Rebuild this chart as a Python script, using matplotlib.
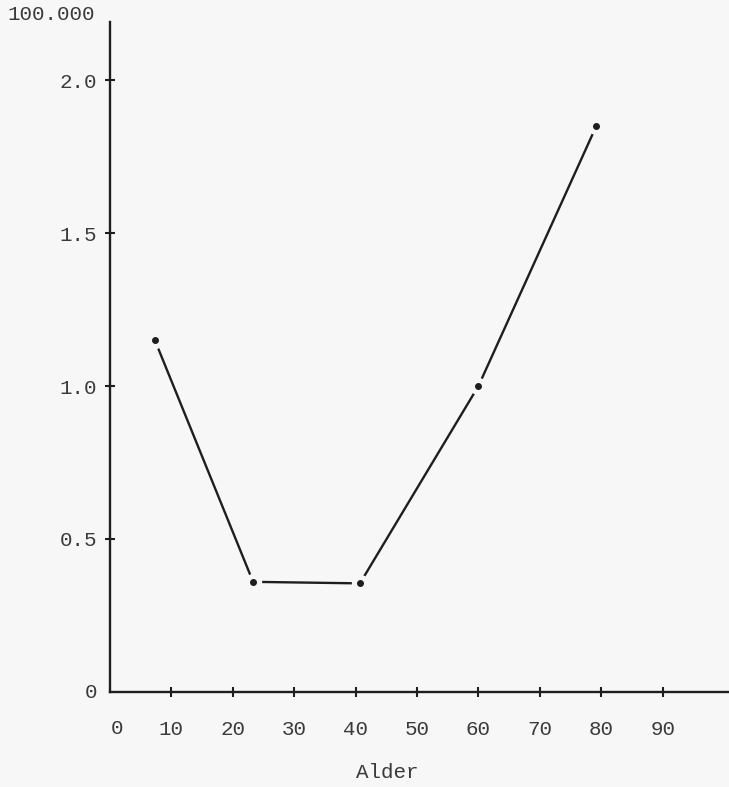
import matplotlib
matplotlib.use("Agg")
import matplotlib.pyplot as plt

# Data
age = [7.3, 23.3, 40.7, 60.0, 79.2]
rate = [1.15, 0.36, 0.355, 1.0, 1.85]
x_ticks = [0, 10, 20, 30, 40, 50, 60, 70, 80, 90]
y_ticks = [0.5, 1.0, 1.5, 2.0]
y_ticklabels = ["0.5", "1.0", "1.5", "2.0"]
x_label = "Alder"
unit_label = "100.000"

BG = "#f7f7f7"
INK = "#1e1e1e"
TXT = "#3a3a3a"
FONT = ["Liberation Mono", "DejaVu Sans Mono"]
FS = 15

plt.rcParams["font.family"] = FONT

fig = plt.figure(figsize=(7.29, 7.87), dpi=100, facecolor=BG)
W, H = 729, 787
ax = fig.add_axes([110 / W, 1 - 692 / H, 1 - 110 / W, (692 - 22) / H])
ax.set_facecolor(BG)

ax.set_xlim(0, 100.8)
ax.set_ylim(0, (692 - 22) / 306.0)

for s in ["top", "right"]:
    ax.spines[s].set_visible(False)
for s in ["left", "bottom"]:
    ax.spines[s].set_color(INK)
    ax.spines[s].set_linewidth(1.7)

ax.plot(age, rate, color=INK, lw=1.7, zorder=2, solid_capstyle="round")
ax.plot(age, rate, ls="none", marker="o", ms=11.5, mfc=BG, mec=BG, zorder=3)
ax.plot(age, rate, ls="none", marker="o", ms=4.0, mfc=INK, mec=INK, zorder=4)

ax.set_xticks(x_ticks[1:])
ax.set_xticklabels([str(v) for v in x_ticks[1:]])
ax.set_yticks(y_ticks)
ax.set_yticklabels(y_ticklabels)
ax.tick_params(axis="both", direction="inout", length=7, width=1.5, color=INK,
               labelsize=FS, labelcolor=TXT)
ax.tick_params(axis="x", pad=17)
ax.tick_params(axis="y", pad=6)

# zero labels at the origin
ax.text(1.2, -0.118, str(x_ticks[0]), ha="center", va="center",
        fontsize=FS, color=TXT, clip_on=False)
ax.text(-2.0, 0.0, "0", ha="right", va="center", fontsize=FS, color=TXT, clip_on=False)

fig.text(387 / W, 1 - 773 / H, x_label, ha="center", va="center", fontsize=FS, color=TXT)
fig.text(7 / W, 1 - 14 / H, unit_label, ha="left", va="center", fontsize=FS, color=TXT)

fig.savefig("out.png", dpi=100, facecolor=BG)
